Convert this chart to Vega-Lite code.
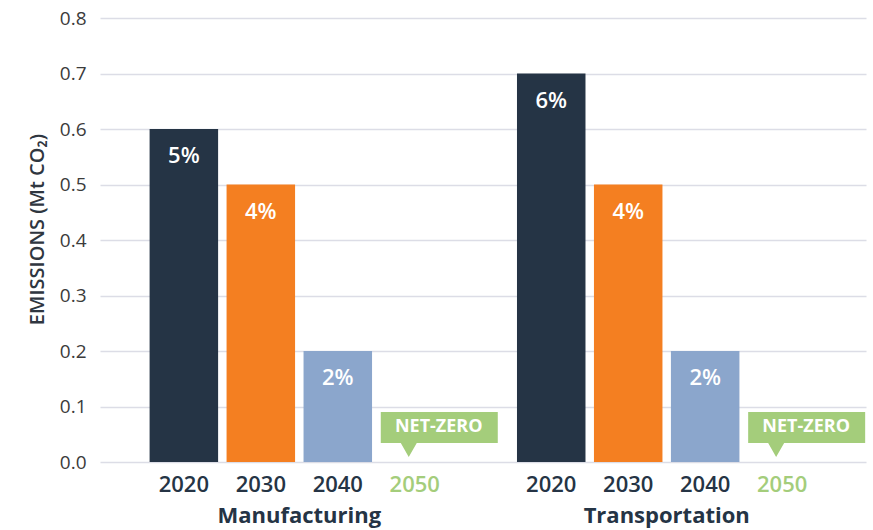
{
  "$schema": "https://vega.github.io/schema/vega-lite/v6.json",
  "width": 766,
  "height": 444,
  "autosize": {"type": "none"},
  "padding": {"left": 100, "top": 18, "right": 7, "bottom": 68},
  "background": "white",
  "config": {"view": {"stroke": null}, "font": "Open Sans"},
  "data": {
    "values": [
      {"sector": "Manufacturing", "year": "2020", "value": 0.6, "label": "5%"},
      {"sector": "Manufacturing", "year": "2030", "value": 0.5, "label": "4%"},
      {"sector": "Manufacturing", "year": "2040", "value": 0.2, "label": "2%"},
      {"sector": "Manufacturing", "year": "2050", "value": 0.0, "label": "NET-ZERO"},
      {"sector": "Transportation", "year": "2020", "value": 0.7, "label": "6%"},
      {"sector": "Transportation", "year": "2030", "value": 0.5, "label": "4%"},
      {"sector": "Transportation", "year": "2040", "value": 0.2, "label": "2%"},
      {"sector": "Transportation", "year": "2050", "value": 0.0, "label": "NET-ZERO"}
    ]
  },
  "encoding": {
    "x": {
      "field": "sector",
      "type": "nominal",
      "sort": null,
      "scale": {"paddingInner": 0.185, "paddingOuter": 0.135},
      "axis": {
        "title": null,
        "domain": false,
        "ticks": false,
        "labelAngle": 0,
        "labelPadding": 43,
        "labelFontSize": 22,
        "labelFontWeight": "bold",
        "labelColor": "#253445",
        "labelFont": "Open Sans"
      }
    },
    "xOffset": {
      "field": "year",
      "type": "nominal",
      "sort": null,
      "scale": {"paddingInner": 0.11, "paddingOuter": 0}
    }
  },
  "layer": [
    {
      "mark": {"type": "bar"},
      "encoding": {
        "y": {
          "field": "value",
          "type": "quantitative",
          "scale": {"domain": [0, 0.8], "nice": false},
          "axis": {
            "values": [0, 0.1, 0.2, 0.3, 0.4, 0.5, 0.6, 0.7, 0.8],
            "format": ".1f",
            "title": "EMISSIONS (Mt CO₂)",
            "titleFontSize": 20,
            "titleFontWeight": 600,
            "titleColor": "#2f3640",
            "titlePadding": 12,
            "titleY": 211,
            "domain": false,
            "ticks": false,
            "labelPadding": 14,
            "labelFontSize": 19,
            "labelColor": "#3b3b3b",
            "gridColor": "#dcdde6",
            "gridWidth": 1.5
          }
        },
        "color": {
          "field": "year",
          "type": "nominal",
          "scale": {"domain": ["2020", "2030", "2040", "2050"], "range": ["#253445", "#f47f21", "#8ba6cc", "#a4cd7b"]},
          "legend": null
        }
      }
    },
    {
      "transform": [{"filter": "datum.year !== '2050'"}],
      "mark": {"type": "text", "color": "white", "fontSize": 22, "fontWeight": 600, "baseline": "middle", "dy": 27},
      "encoding": {
        "y": {"field": "value", "type": "quantitative"},
        "text": {"field": "label"}
      }
    },
    {
      "mark": {"type": "text", "fontSize": 22, "fontWeight": 600, "baseline": "middle", "dy": 23},
      "encoding": {
        "y": {"datum": 0},
        "text": {"field": "year"},
        "color": {"condition": {"test": "datum.year === '2050'", "value": "#a4cd7b"}, "value": "#253445"}
      }
    },
    {
      "transform": [{"filter": "datum.year === '2050'"}],
      "mark": {
        "type": "point",
        "filled": true,
        "opacity": 1,
        "color": "#a4cd7b",
        "size": 13924,
        "shape": "M-0.576,-0.847 L1.407,-0.847 L1.407,-0.322 L0.034,-0.322 L-0.102,-0.085 L-0.237,-0.322 L-0.576,-0.322 Z"
      },
      "encoding": {
        "y": {"field": "value", "type": "quantitative"}
      }
    },
    {
      "transform": [{"filter": "datum.year === '2050'"}],
      "mark": {"type": "text", "color": "white", "fontSize": 18, "fontWeight": "bold", "baseline": "middle", "dx": 24, "dy": -35},
      "encoding": {
        "y": {"field": "value", "type": "quantitative"},
        "text": {"field": "label"}
      }
    }
  ]
}
